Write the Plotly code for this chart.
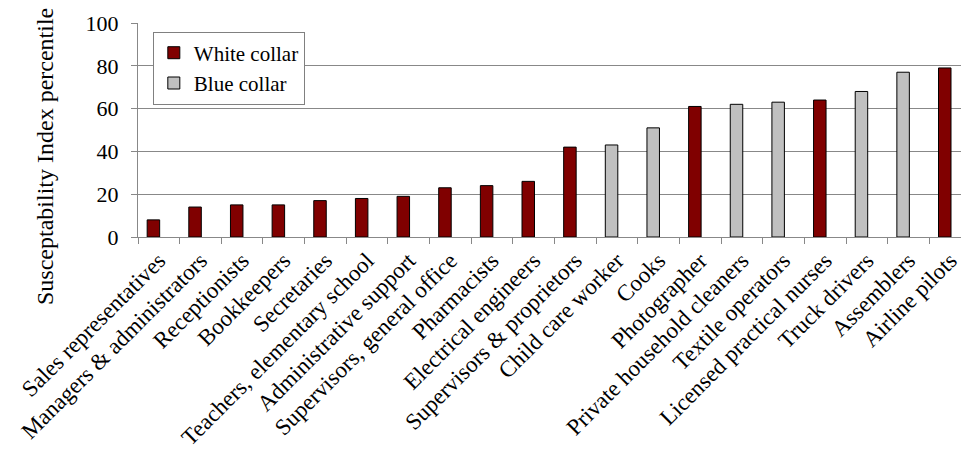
import plotly.graph_objects as go

# Occupations, ordered by susceptibility
occupations = [
    "Sales representatives", "Managers & administrators", "Receptionists",
    "Bookkeepers", "Secretaries", "Teachers, elementary school",
    "Administrative support", "Supervisors, general office", "Pharmacists",
    "Electrical engineers", "Supervisors & proprietors", "Child care worker",
    "Cooks", "Photographer", "Private household cleaners", "Textile operators",
    "Licensed practical nurses", "Truck drivers", "Assemblers", "Airline pilots",
]
percentile = [8, 14, 15, 15, 17, 18, 19, 23, 24, 26, 42, 43, 51, 61, 62, 63, 64, 68, 77, 79]
collar = ["White", "White", "White", "White", "White", "White", "White", "White", "White",
          "White", "White", "Blue", "Blue", "White", "Blue", "Blue", "White", "Blue", "Blue", "White"]

series = [("White", "White collar", "#800000"), ("Blue", "Blue collar", "#C0C0C0")]

FONT = "Liberation Serif"
W, H = 961, 454
LEFT, TOP, BOTTOM = 138, 23, 237

fig = go.Figure()
for key, name, color in series:
    fig.add_trace(go.Bar(
        x=occupations,
        y=[v if c == key else None for v, c in zip(percentile, collar)],
        name=name,
        marker=dict(color=color, line=dict(color="#000000", width=1)),
        width=0.3,
        offset=-0.28,
    ))

fig.update_layout(
    width=W, height=H,
    margin=dict(l=LEFT, r=0, t=TOP, b=H - BOTTOM, pad=0),
    paper_bgcolor="white", plot_bgcolor="white",
    barmode="overlay",
    font=dict(family=FONT, size=22, color="#000000"),
    showlegend=True,
    legend=dict(
        x=0.018, y=0.96, xanchor="left", yanchor="top",
        bgcolor="white", bordercolor="#808080", borderwidth=1,
        font=dict(family=FONT, size=21),
        tracegroupgap=0, itemwidth=30, entrywidth=170,
    ),
    xaxis=dict(
        type="category",
        range=[-0.5, 19.26],
        tickson="boundaries",
        ticks="outside", ticklen=6, tickcolor="#888888",
        showline=True, linecolor="#888888", linewidth=1,
        showgrid=False,
        tickangle=-45,
        tickfont=dict(family=FONT, size=23),
        automargin=False,
    ),
    yaxis=dict(
        range=[0, 100], tickvals=[0, 20, 40, 60, 80, 100],
        ticks="outside", ticklen=6, tickcolor="#888888",
        ticklabelstandoff=8,
        showline=True, linecolor="#888888", linewidth=1,
        showgrid=True, gridcolor="#888888", gridwidth=1,
        zeroline=False,
        tickfont=dict(family=FONT, size=22),
        automargin=False,
    ),
    annotations=[dict(
        text="Susceptability Index percentile",
        xref="paper", yref="paper",
        x=(45 - LEFT) / (W - LEFT), y=(BOTTOM - 157) / (BOTTOM - TOP),
        xanchor="center", yanchor="middle",
        textangle=-90, showarrow=False,
        font=dict(family=FONT, size=24),
    )],
)

fig.write_html("out.html")
